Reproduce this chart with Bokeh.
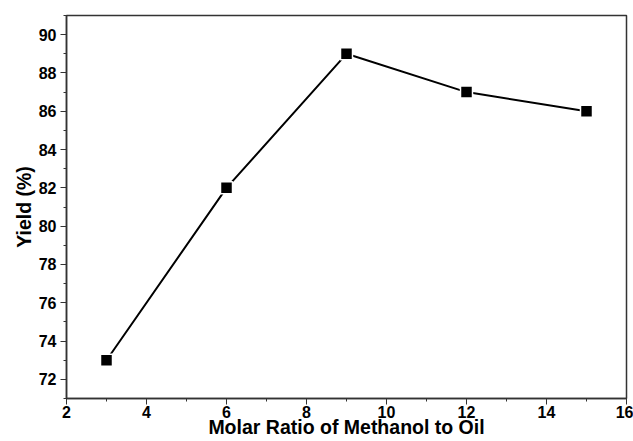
from bokeh.plotting import figure
from bokeh.models import Range1d, FixedTicker
from bokeh.embed import file_html
from bokeh.resources import INLINE

ratio = [3, 6, 9, 12, 15]
yield_pct = [73, 82, 89, 87, 86]
x_ticks = [2, 4, 6, 8, 10, 12, 14, 16]
y_ticks = [72, 74, 76, 78, 80, 82, 84, 86, 88, 90]

p = figure(width=633, height=441, output_backend="svg", toolbar_location=None,
           x_range=Range1d(2, 16), y_range=Range1d(71, 91))
p.min_border_left = 66
p.min_border_right = 7
p.min_border_top = 15
p.min_border_bottom = 43
p.grid.visible = False
p.outline_line_color = "#333333"
p.outline_line_width = 1.5

p.line(ratio, yield_pct, line_color="black", line_width=2)
p.scatter(ratio, yield_pct, marker="square", size=12, fill_color="black",
          line_color="white", line_width=1.5)

p.axis.major_label_text_font = "Liberation Sans"
p.axis.major_label_text_font_style = "bold"
p.axis.major_label_text_font_size = "16px"
p.axis.major_label_text_color = "black"
p.axis.axis_label_text_font = "Liberation Sans"
p.axis.axis_label_text_font_style = "bold"
p.axis.axis_label_text_font_size = "19.5px"
p.axis.axis_label_text_color = "black"
p.axis.axis_line_color = "#333333"
p.axis.axis_line_width = 1.5
p.axis.major_tick_line_color = "#333333"
p.axis.minor_tick_line_color = "#333333"
p.axis.major_tick_out = 6
p.axis.major_tick_in = 0
p.axis.minor_tick_out = 3
p.axis.minor_tick_in = 0

p.xaxis.ticker = FixedTicker(ticks=x_ticks, minor_ticks=list(range(2, 17)))
p.yaxis.ticker = FixedTicker(ticks=y_ticks, minor_ticks=list(range(71, 92)))
p.xaxis.axis_label = "Molar Ratio of Methanol to Oil"
p.yaxis.axis_label = "Yield (%)"
p.xaxis.major_label_standoff = 1
p.yaxis.major_label_standoff = 4
p.xaxis.axis_label_standoff = -5
p.yaxis.axis_label_standoff = 1

open("out.html", "w").write(file_html(p, INLINE))
